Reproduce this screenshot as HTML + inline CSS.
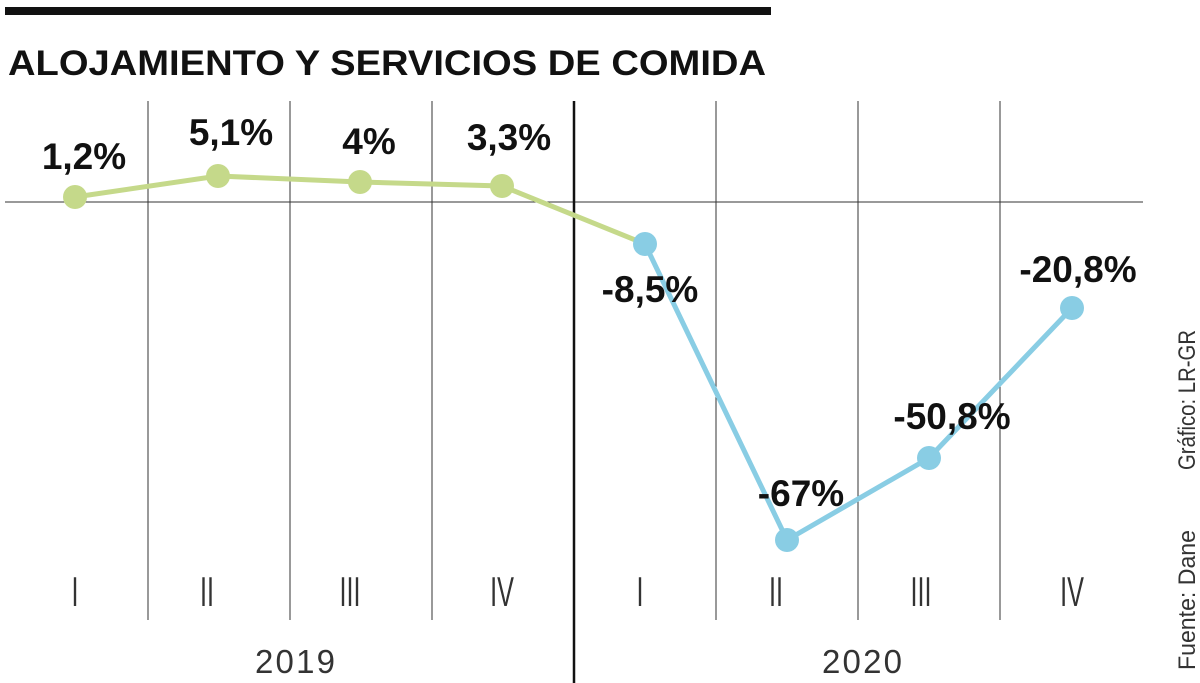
<!DOCTYPE html>
<html><head><meta charset="utf-8"><style>
body{margin:0;background:#fff;}
svg{display:block;}
</style></head><body>
<svg width="1200" height="683" xmlns="http://www.w3.org/2000/svg" font-family="Liberation Sans, sans-serif">
<rect x="5" y="7" width="766" height="8" fill="#111"/>
<text x="8" y="75" font-size="35" font-weight="bold" fill="#111" textLength="758" lengthAdjust="spacingAndGlyphs">ALOJAMIENTO Y SERVICIOS DE COMIDA</text>
<g stroke="#333" stroke-width="1">
<line x1="148" y1="101" x2="148" y2="620"/>
<line x1="290" y1="101" x2="290" y2="620"/>
<line x1="432" y1="101" x2="432" y2="620"/>
<line x1="716" y1="101" x2="716" y2="620"/>
<line x1="858" y1="101" x2="858" y2="620"/>
<line x1="1000" y1="101" x2="1000" y2="620"/>
<line x1="5" y1="202" x2="1143" y2="202"/>
</g>
<line x1="574" y1="101" x2="574" y2="683" stroke="#111" stroke-width="2.5"/>
<polyline points="75,197 218,176 360,182 502,186 645,244" fill="none" stroke="#c5d98a" stroke-width="5"/>
<polyline points="645,244 787,540 929,458 1072,308" fill="none" stroke="#89cde4" stroke-width="5"/>
<g fill="#c5d98a"><circle cx="75" cy="197" r="12"/><circle cx="218" cy="176" r="12"/><circle cx="360" cy="182" r="12"/><circle cx="502" cy="186" r="12"/></g>
<g fill="#89cde4"><circle cx="645" cy="244" r="12"/><circle cx="787" cy="540" r="12"/><circle cx="929" cy="458" r="12"/><circle cx="1072" cy="308" r="12"/></g>
<g font-size="37" font-weight="bold" fill="#111" text-anchor="middle">
<text x="84" y="169">1,2%</text>
<text x="231" y="145">5,1%</text>
<text x="369" y="154">4%</text>
<text x="509" y="150">3,3%</text>
<text x="650" y="302">-8,5%</text>
<text x="801" y="506">-67%</text>
<text x="952" y="429">-50,8%</text>
<text x="1078" y="282">-20,8%</text>
</g>
<g font-size="42" fill="#333" text-anchor="middle">
<text transform="translate(75,606) scale(0.6,1)">I</text>
<text transform="translate(207,606) scale(0.6,1)">II</text>
<text transform="translate(350,606) scale(0.6,1)">III</text>
<text transform="translate(502,606) scale(0.6,1)">IV</text>
<text transform="translate(640,606) scale(0.6,1)">I</text>
<text transform="translate(776,606) scale(0.6,1)">II</text>
<text transform="translate(921,606) scale(0.6,1)">III</text>
<text transform="translate(1072,606) scale(0.6,1)">IV</text>
</g>
<g font-size="33" fill="#333" text-anchor="middle">
<text x="295" y="673" textLength="80">2019</text>
<text x="862" y="673" textLength="80">2020</text>
</g>
<g font-size="24" fill="#333">
<text transform="translate(1195,670) rotate(-90)" textLength="140" lengthAdjust="spacingAndGlyphs">Fuente: Dane</text>
<text transform="translate(1195,470) rotate(-90)" textLength="140" lengthAdjust="spacingAndGlyphs">Gráfico: LR-GR</text>
</g>
</svg>
</body></html>
